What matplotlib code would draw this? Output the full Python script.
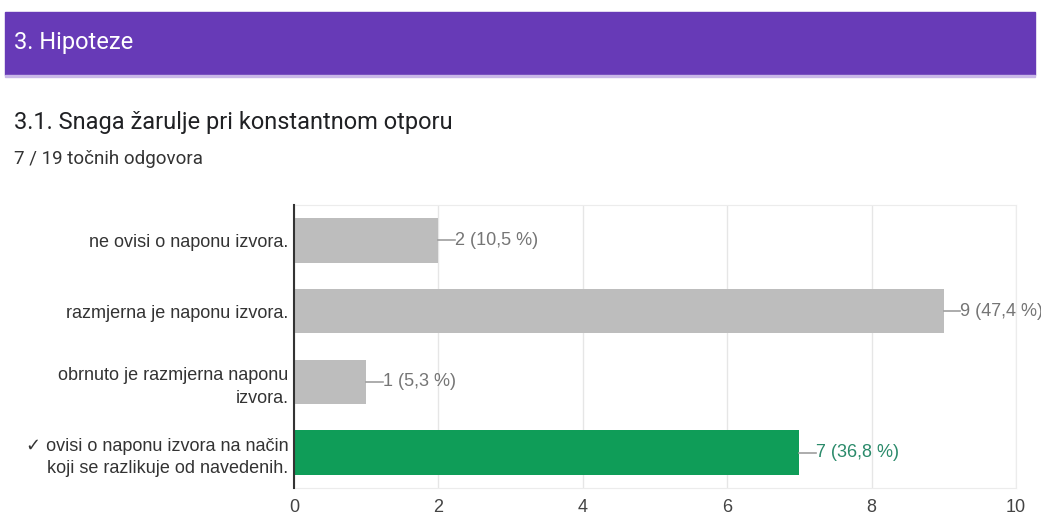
import matplotlib.pyplot as plt
from matplotlib.patches import Rectangle

# data
categories = ['ne ovisi o naponu izvora.',
              'razmjerna je naponu izvora.',
              'obrnuto je razmjerna naponu\nizvora.',
              '\u2713 ovisi o naponu izvora na način\nkoji se razlikuje od navedenih.']
counts = [2, 9, 1, 7]
percents = ['10,5', '47,4', '5,3', '36,8']
correct = [False, False, False, True]
xticks = [0, 2, 4, 6, 8, 10]

W, H = 1041, 516
fig = plt.figure(figsize=(W / 100, H / 100), dpi=100)
chart_font = ['Liberation Sans', 'DejaVu Sans']

# purple header band
fig.patches.append(Rectangle((5 / W, 1 - 75 / H), 1030 / W, 63 / H,
                             transform=fig.transFigure, color='#673ab7', zorder=0))
fig.patches.append(Rectangle((5 / W, 1 - 77 / H), 1030 / W, 2 / H,
                             transform=fig.transFigure, color='#c9b8e8', zorder=0))
fig.text(14 / W, 1 - 43 / H, '3. Hipoteze', color='white', fontsize=17,
         family='Roboto', va='center', ha='left')
fig.text(14 / W, 1 - 122 / H, '3.1. Snaga žarulje pri konstantnom otporu',
         color='#202124', fontsize=17, family='Roboto', va='center', ha='left')
fig.text(14 / W, 1 - 159 / H, '7 / 19 točnih odgovora', color='#333333',
         fontsize=13.5, family='Roboto', va='center', ha='left')

ax = fig.add_axes([294 / W, 1 - 488 / H, 722 / W, 283 / H])
y = list(range(len(categories)))
colors = ['#0f9d58' if c else '#bdbdbd' for c in correct]
ax.barh(y, counts, height=0.63, color=colors, zorder=2)
ax.set_ylim(3.5, -0.5)
ax.set_xlim(0, 10)
ax.set_xticks(xticks)
ax.set_yticks(y)
ax.set_yticklabels(categories, family=chart_font, fontsize=13,
                   color='#333333', linespacing=1.45)
ax.tick_params(axis='y', length=0, pad=4)
ax.tick_params(axis='x', length=0, pad=8, labelsize=13, labelcolor='#444444')
for lab in ax.get_xticklabels():
    lab.set_family(chart_font)
ax.grid(axis='x', color='#e6e6e6', linewidth=1, zorder=0)
for s in ['top', 'right', 'bottom']:
    ax.spines[s].set_color('#ececec')
ax.spines['left'].set_color('#333333')
ax.spines['left'].set_linewidth(1.5)
ax.spines['left'].set_zorder(3)

# value labels with short leader line
for i, (c, p, ok) in enumerate(zip(counts, percents, correct)):
    tcol = '#2a8a6a' if ok else '#757575'
    ax.plot([c, c + 0.23], [i, i], color='#9e9e9e', lw=1.2, zorder=3,
            clip_on=False)
    ax.text(c + 0.23, i, f'{c} ({p} %)', va='center', ha='left', fontsize=13,
            family=chart_font, color=tcol, clip_on=False)

fig.savefig('out.png', dpi=100)
